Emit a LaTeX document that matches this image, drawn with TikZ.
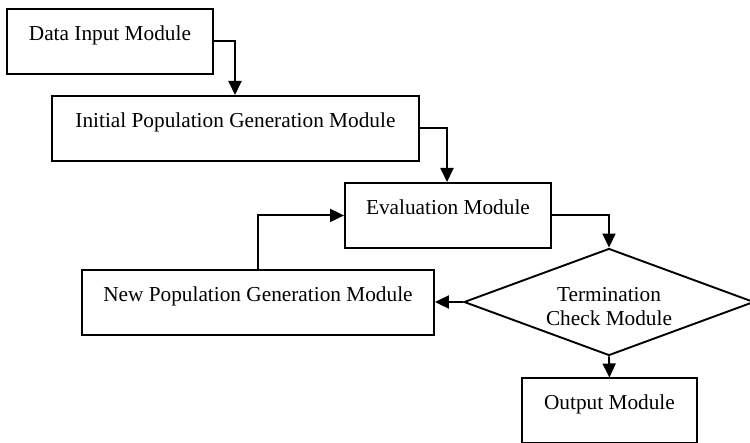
\documentclass[tikz,border=0pt]{standalone}
\usepackage{fontspec}
\setmainfont{Liberation Serif}
\usetikzlibrary{arrows.meta,shapes.geometric}
\begin{document}
\begin{tikzpicture}[x=1pt,y=-1pt,
  txt/.style={font=\fontsize{21.3}{24}\selectfont},
  box/.style={txt, draw, line width=1.9pt, rectangle, anchor=north west,
    inner xsep=0pt, inner ysep=0pt, text height=31.5pt, text depth=33.5pt},
  arr/.style={draw, line width=1.9pt, -{Triangle[length=14pt,width=13pt]}}
]
\useasboundingbox (0,0) rectangle (750,443);
\node[box, minimum width=206pt] (din)  at (6,8)       {Data Input Module};
\node[box, minimum width=367pt] (init) at (51,95)     {Initial Population Generation Module};
\node[box, minimum width=206pt] (eval) at (344,182)   {Evaluation Module};
\node[box, minimum width=352pt] (np)   at (81,269.5)  {New Population Generation Module};
\node[box, minimum width=175pt] (out)  at (521,377.5) {Output Module};
\node[diamond, draw, line width=1.9pt, minimum width=290pt, minimum height=107pt,
  inner sep=0pt, shape aspect=2.7] (dia) at (609,302) {};
\node[txt, align=center] (diat) at (609,307) {Termination\\Check Module};
\coordinate (c1) at (235,95);
\coordinate (c2) at (447,182);
\draw[arr] (din.east) -| (c1);
\draw[arr] (init.east) -| (c2);
\draw[arr] (eval.east) -| (dia.north);
\draw[arr] (dia.west) -- (dia.west -| np.east);
\draw[arr] (np.north) |- (eval.west);
\draw[arr] (dia.south) -- (out.north);
\end{tikzpicture}
\end{document}
